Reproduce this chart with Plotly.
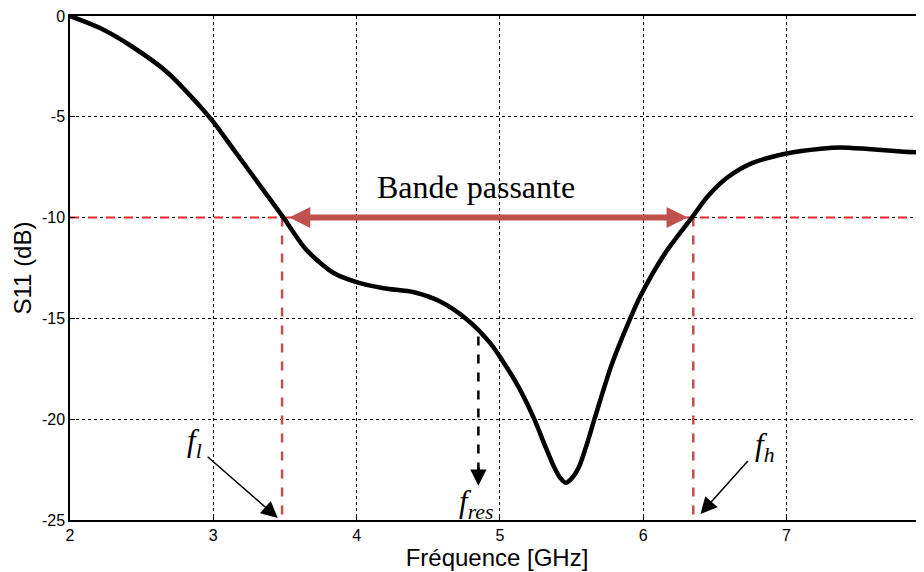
import plotly.graph_objects as go

# ---- data ----
freq = [2.0, 2.21, 2.44, 2.68, 2.91, 3.0, 3.15, 3.32, 3.49, 3.65, 3.84, 4.0, 4.19,
        4.40, 4.58, 4.77, 4.93, 5.0, 5.13, 5.24, 5.32, 5.38, 5.42, 5.46, 5.50, 5.55,
        5.60, 5.66, 5.78, 5.91, 5.98, 6.15, 6.34, 6.45, 6.59, 6.76, 7.0, 7.24, 7.38,
        7.57, 7.80, 8.0]
s11 = [0.0, -0.6, -1.55, -2.8, -4.5, -5.25, -6.7, -8.35, -10.0, -11.6, -12.75, -13.2,
       -13.5, -13.7, -14.15, -15.05, -16.2, -16.9, -18.4, -20.0, -21.4, -22.4, -22.9,
       -23.15, -22.95, -22.4, -21.4, -20.0, -17.3, -15.0, -13.9, -11.8, -10.0, -8.95,
       -8.0, -7.3, -6.82, -6.58, -6.52, -6.6, -6.72, -6.8]

threshold = -10
f_low = 3.48
f_high = 6.35
f_res = 4.85
f_res_level = -15.9
x_ticks = [2, 3, 4, 5, 6, 7, 8]
x_labels = ["2", "3", "4", "5", "6", "7", "8"]
y_ticks = [0, -5, -10, -15, -20, -25]
y_labels = ["0", "-5", "-10", "-15", "-20", "-25"]
x_range = [2, 7.96]
y_range = [-25, 0]

band_label = "Bande passante"
label_fl = "<i>f</i><sub><i>l</i></sub>"
label_fh = "<i>f</i><sub><i>h</i></sub>"
label_fres = "<i>f</i><sub><i>res</i></sub>"

serif = "Liberation Serif, Times New Roman, serif"
sans = "Liberation Sans, Arial, sans-serif"
bandred = "#c0504d"

fig = go.Figure()

# threshold line
fig.add_trace(go.Scatter(x=[x_range[0], x_range[1]], y=[threshold, threshold], mode="lines",
                         line=dict(color="rgb(230,40,40)", width=2, dash="dash"),
                         hoverinfo="skip", showlegend=False))
# vertical band edges
for fv in (f_low, f_high):
    fig.add_trace(go.Scatter(x=[fv, fv], y=[threshold, -24.8], mode="lines",
                             line=dict(color=bandred, width=2.5, dash="dash"),
                             hoverinfo="skip", showlegend=False))
# f_res dashed shaft
fig.add_trace(go.Scatter(x=[f_res, f_res], y=[f_res_level, -22.6], mode="lines",
                         line=dict(color="black", width=2.5, dash="dash"),
                         hoverinfo="skip", showlegend=False))
# S11 curve
fig.add_trace(go.Scatter(x=freq, y=s11, mode="lines",
                         line=dict(color="black", width=4.5, shape="spline", smoothing=0.8),
                         showlegend=False))

annotations = [
    # double arrow for bandwidth
    dict(x=6.31, y=threshold, ax=3.52, ay=threshold, xref="x", yref="y", axref="x", ayref="y",
         text="", showarrow=True, arrowhead=2, startarrowhead=2, arrowside="end+start",
         arrowwidth=6, arrowsize=0.7, startarrowsize=0.7, arrowcolor=bandred),
    dict(x=4.83, y=-8.5, xref="x", yref="y", text=band_label, showarrow=False,
         font=dict(family=serif, size=32, color="black")),
    # f_l
    dict(x=3.45, y=-24.9, ax=2.95, ay=-21.8, xref="x", yref="y", axref="x", ayref="y",
         text="", showarrow=True, arrowhead=2, arrowwidth=1.5, arrowsize=2.2, arrowcolor="black"),
    dict(x=2.87, y=-21.2, xref="x", yref="y", text=label_fl, showarrow=False,
         font=dict(family=serif, size=31, color="black")),
    # f_h
    dict(x=6.40, y=-24.7, ax=6.74, ay=-22.0, xref="x", yref="y", axref="x", ayref="y",
         text="", showarrow=True, arrowhead=2, arrowwidth=1.5, arrowsize=2.2, arrowcolor="black"),
    dict(x=6.85, y=-21.4, xref="x", yref="y", text=label_fh, showarrow=False,
         font=dict(family=serif, size=31, color="black")),
    # f_res arrowhead
    dict(x=f_res, y=-23.3, ax=f_res, ay=-22.3, xref="x", yref="y", axref="x", ayref="y",
         text="", showarrow=True, arrowhead=2, arrowwidth=2.5, arrowsize=1.3, arrowcolor="black"),
    dict(x=4.83, y=-24.2, xref="x", yref="y", text=label_fres, showarrow=False,
         font=dict(family=serif, size=31, color="black")),
]

# the page body adds an 8px offset, so the figure is sized to fill the window exactly
fig.update_layout(
    width=916, height=564,
    margin=dict(l=62, r=0, t=8, b=52),
    paper_bgcolor="white", plot_bgcolor="white",
    showlegend=False,
    annotations=annotations,
    font=dict(family=sans, color="black"),
)
fig.update_xaxes(range=x_range, tickvals=x_ticks, ticktext=x_labels, ticks="inside", ticklen=5,
                 tickcolor="black", ticklabeloverflow="allow",
                 showline=True, linecolor="black", linewidth=1.5, mirror=True,
                 showgrid=True, gridcolor="black", gridwidth=1, griddash="dot",
                 zeroline=False, tickfont=dict(family=sans, size=16, color="black"),
                 title=dict(text="Fréquence [GHz]", font=dict(family=sans, size=24, color="black"),
                            standoff=2))
fig.update_yaxes(range=y_range, tickvals=y_ticks, ticktext=y_labels, ticks="inside", ticklen=5,
                 tickcolor="black", ticklabeloverflow="allow",
                 showline=True, linecolor="black", linewidth=1.5, mirror=False,
                 showgrid=True, gridcolor="black", gridwidth=1, griddash="dot",
                 zeroline=False, tickfont=dict(family=sans, size=16, color="black"),
                 title=dict(text="S11 (dB)", font=dict(family=sans, size=24, color="black"),
                            standoff=4))

fig.write_html("out.html")
